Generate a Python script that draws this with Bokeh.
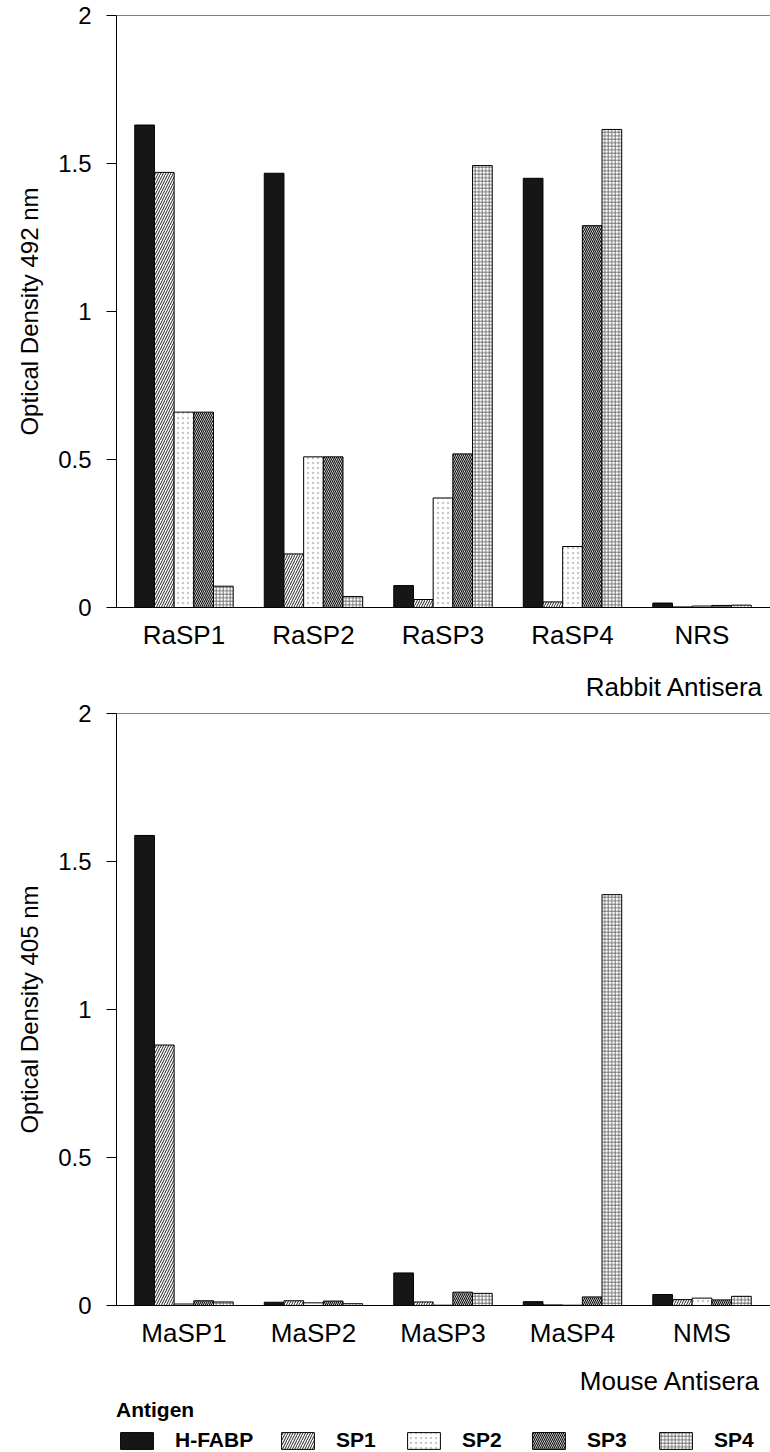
from bokeh.plotting import figure
from bokeh.models import (Range1d, FixedTicker, Span, Title, Legend, LegendItem,
                          ColumnDataSource)
from bokeh.transform import dodge
from bokeh.layouts import column
from bokeh.embed import file_html
from bokeh.resources import INLINE

# ---------------- data ----------------
antigens = ["H-FABP", "SP1", "SP2", "SP3", "SP4"]

rabbit_sera = ["RaSP1", "RaSP2", "RaSP3", "RaSP4", "NRS"]
rabbit_hfabp = [1.630, 1.467, 0.074, 1.450, 0.015]
rabbit_sp1 = [1.470, 0.181, 0.027, 0.019, 0.002]
rabbit_sp2 = [0.660, 0.509, 0.370, 0.206, 0.005]
rabbit_sp3 = [0.660, 0.509, 0.519, 1.290, 0.007]
rabbit_sp4 = [0.072, 0.037, 1.493, 1.615, 0.008]

mouse_sera = ["MaSP1", "MaSP2", "MaSP3", "MaSP4", "NMS"]
mouse_hfabp = [1.588, 0.011, 0.110, 0.013, 0.037]
mouse_sp1 = [0.880, 0.016, 0.012, 0.002, 0.020]
mouse_sp2 = [0.005, 0.009, 0.001, 0.001, 0.025]
mouse_sp3 = [0.016, 0.015, 0.045, 0.029, 0.019]
mouse_sp4 = [0.012, 0.006, 0.041, 1.388, 0.031]

y_ticks = [0, 0.5, 1, 1.5, 2]
y_tick_labels = ["0", "0.5", "1", "1.5", "2"]

# ---------------- styles ----------------
FONT = "Liberation Sans"
styles = {
    "H-FABP": dict(fill_color="#161616"),
    "SP1": dict(fill_color="white", hatch_pattern="/", hatch_scale=5,
                hatch_weight=1.0, hatch_color="#222222"),
    "SP2": dict(fill_color="white", hatch_pattern=".", hatch_scale=5,
                hatch_weight=0.5, hatch_color="#c8c8c8"),
    "SP3": dict(fill_color="#ffffff", hatch_pattern="\\", hatch_scale=4,
                hatch_weight=1.2, hatch_color="#111111"),
    "SP4": dict(fill_color="white", hatch_pattern="+", hatch_scale=3.5,
                hatch_weight=0.8, hatch_color="#555555"),
}

BW = 0.152


def bar_kw(a):
    kw = dict(line_color="black", line_width=1)
    kw.update(styles[a])
    return kw


def sera_title(text, standoff):
    return Title(text=text, align="right", offset=10, standoff=standoff,
                 text_font=FONT, text_font_size="26px", text_font_style="normal",
                 text_color="black")


def make_panel(sera, series, ylabel, top_border, bottom_border):
    src = dict(x=list(range(len(sera))))
    for a, vals in zip(antigens, series):
        src[a] = vals
    source = ColumnDataSource(src)

    p = figure(output_backend="svg", toolbar_location=None,
               frame_width=657, frame_height=592,
               min_border_left=113, min_border_right=0,
               min_border_top=top_border, min_border_bottom=bottom_border,
               x_range=Range1d(-0.521, 4.552), y_range=Range1d(0, 2),
               background_fill_color="white", border_fill_color="white")
    p.outline_line_color = None
    p.grid.visible = False

    n = len(antigens)
    for k, a in enumerate(antigens):
        p.vbar(x=dodge("x", (k - (n - 1) / 2) * BW, range=p.x_range),
               top=a, bottom=0, width=BW, source=source, **bar_kw(a))

    p.add_layout(Span(location=2, dimension="width", line_color="black", line_width=1))

    ya = p.yaxis[0]
    ya.ticker = FixedTicker(ticks=y_ticks)
    ya.major_label_overrides = {t: l for t, l in zip(y_ticks, y_tick_labels)}
    ya.major_tick_out = 10
    ya.major_tick_in = 0
    ya.minor_tick_out = 0
    ya.minor_tick_in = 0
    ya.major_label_standoff = 15
    ya.major_label_text_font = FONT
    ya.major_label_text_font_size = "24px"
    ya.major_label_text_color = "black"
    ya.axis_label = ylabel
    ya.axis_label_text_font = FONT
    ya.axis_label_text_font_size = "24px"
    ya.axis_label_text_font_style = "normal"
    ya.axis_label_text_color = "black"
    ya.axis_label_standoff = 12
    ya.axis_line_color = "black"
    ya.major_tick_line_color = "black"

    xa = p.xaxis[0]
    xa.ticker = FixedTicker(ticks=list(range(len(sera))))
    xa.major_label_overrides = {i: s for i, s in enumerate(sera)}
    xa.major_tick_out = 0
    xa.major_tick_in = 0
    xa.minor_tick_out = 0
    xa.minor_tick_in = 0
    xa.major_label_standoff = 12
    xa.major_label_text_font = FONT
    xa.major_label_text_font_size = "26px"
    xa.major_label_text_color = "black"
    xa.axis_line_color = "black"
    return p, source


p1, src1 = make_panel(rabbit_sera, [rabbit_hfabp, rabbit_sp1, rabbit_sp2, rabbit_sp3, rabbit_sp4],
                      "Optical Density 492 nm", 15, 46)
p2, src2 = make_panel(mouse_sera, [mouse_hfabp, mouse_sp1, mouse_sp2, mouse_sp3, mouse_sp4],
                      "Optical Density 405 nm", 60, 46)
# "Rabbit Antisera" sits under the rabbit panel's labels (drawn in the strip above the mouse frame)
p2.add_layout(sera_title("Rabbit Antisera", 23), "above")

# ---------------- legend strip ----------------
p3 = figure(output_backend="svg", toolbar_location=None, width=770, height=101,
            min_border_left=116, min_border_right=0, min_border_top=44, min_border_bottom=0,
            x_axis_location=None, y_axis_location=None,
            x_range=Range1d(-0.521, 4.552), y_range=Range1d(10, 11),
            background_fill_color="white", border_fill_color="white")
p3.outline_line_color = None
p3.grid.visible = False
p3.add_layout(sera_title("Mouse Antisera", 0), "above")

legend_x = [0, 161, 287, 412, 539]   # item offsets (px) from the legend strip's left edge
n = len(antigens)
for k, a in enumerate(antigens):
    # same bars as the mouse panel, but out of this strip's view: only their legend swatch shows
    r = p3.vbar(x=dodge("x", (k - (n - 1) / 2) * BW, range=p3.x_range), top=a, bottom=0,
                width=BW, source=src2, **bar_kw(a))
    kw = dict(items=[LegendItem(label=a, renderers=[r])], orientation="horizontal",
              location=(legend_x[k], 0),
              label_text_font=FONT, label_text_font_size="21px",
              label_text_font_style="bold", label_text_color="black",
              glyph_width=41, glyph_height=21, label_standoff=18, spacing=0,
              padding=0, margin=0, border_line_color=None, background_fill_alpha=0)
    if k == 0:
        kw.update(title="Antigen", title_text_font=FONT, title_text_font_size="21px",
                  title_text_font_style="bold", title_text_color="black", title_standoff=6)
    p3.add_layout(Legend(**kw), "center")

layout = column(p1, p2, p3, spacing=0)
open("out.html", "w").write(file_html(layout, INLINE))
